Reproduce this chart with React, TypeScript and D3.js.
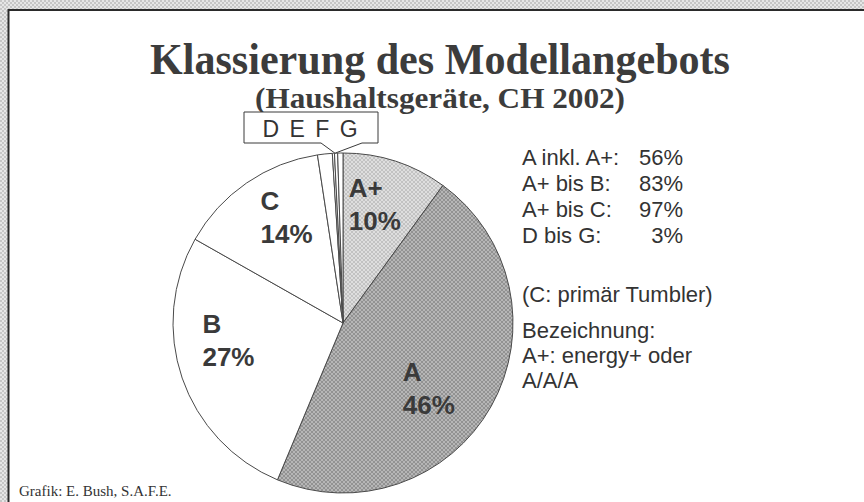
import React from 'react';
import * as d3 from 'd3';

// Anteile (Haushaltsgeräte, CH 2002), im Uhrzeigersinn ab 12 Uhr
const classes = ['A+', 'A', 'B', 'C', 'D', 'E', 'F', 'G'];
const shares = [10, 46.3, 26.9, 14.4, 1.4, 0.2, 0.3, 0.5];
const labelled = ['A+', 'A', 'B', 'C'];

const summaryLabels = ['A inkl. A+:', 'A+ bis B:', 'A+ bis C:', 'D bis G:'];
const summaryValues = ['56%', '83%', '97%', '3%'];
const notes = ['(C: primär Tumbler)', 'Bezeichnung:', 'A+: energy+ oder', 'A/A/A'];

const title = 'Klassierung des Modellangebots';
const subtitle = '(Haushaltsgeräte, CH 2002)';
const calloutText = 'D E F G';
const credit = 'Grafik: E. Bush, S.A.F.E.';

const W = 864;
const H = 502;
const cx = 343;
const cy = 323;
const R = 170;

// kleine Korrekturen der Beschriftung
const nudge: Record<string, [number, number]> = {
  'A+': [-31, -13],
  A: [-44, 0],
  B: [-28, -29],
  C: [-15, -15],
};

const fillFor = (k: string) => (k === 'A+' ? 'url(#pLight)' : k === 'A' ? 'url(#pDark)' : '#fff');

const App = () => {
  const data = classes.map((k, i) => ({ k, v: shares[i] }));
  const pie = d3.pie<{ k: string; v: number }>().sort(null).value(d => d.v);
  const arcs = pie(data);
  const arc = d3.arc<d3.PieArcDatum<{ k: string; v: number }>>().innerRadius(0).outerRadius(R);
  const labelArc = d3.arc<d3.PieArcDatum<{ k: string; v: number }>>().innerRadius(R * 0.7).outerRadius(R * 0.7);

  // Spitze der Legendenbox: Rand des Kuchens zwischen E und F
  const e = arcs[classes.indexOf('E')];
  const f = arcs[classes.indexOf('F')];
  const tipA = (e.startAngle + f.endAngle) / 2;
  const tip = [cx + R * Math.sin(tipA), cy - R * Math.cos(tipA)];

  const box = { x0: 244, x1: 378, y0: 112, y1: 143 };
  const callout = [
    [box.x0, box.y0], [box.x1, box.y0], [box.x1, box.y1], [362, box.y1],
    tip, [321, box.y1], [box.x0, box.y1],
  ];

  return (
    <svg width={W} height={H} style={{ position: 'absolute', left: 0, top: 0, background: '#fff' }}>
      <defs>
        <pattern id="pLight" width="4" height="4" patternUnits="userSpaceOnUse">
          <rect width="4" height="4" fill="#dedede" />
          <rect width="2" height="2" fill="#c2c2c2" />
          <rect x="2" y="2" width="2" height="2" fill="#c2c2c2" />
        </pattern>
        <pattern id="pDark" width="4" height="4" patternUnits="userSpaceOnUse">
          <rect width="4" height="4" fill="#b6b6b6" />
          <rect width="2" height="2" fill="#929292" />
          <rect x="2" y="2" width="2" height="2" fill="#929292" />
        </pattern>
        <pattern id="pFrame" width="4" height="4" patternUnits="userSpaceOnUse">
          <rect width="4" height="4" fill="#e6e6e6" />
          <rect width="2" height="2" fill="#c6c6c6" />
          <rect x="2" y="2" width="2" height="2" fill="#c6c6c6" />
        </pattern>
      </defs>

      {/* Rahmen */}
      <rect x={0} y={0} width={W} height={9} fill="url(#pFrame)" />
      <rect x={0} y={0} width={8} height={H} fill="url(#pFrame)" />
      <path d={`M8.5,${H} V10 H${W}`} fill="none" stroke="#2a2a2a" strokeWidth={2} />

      {/* Titel */}
      <text x={440} y={74} textAnchor="middle" fontFamily="Liberation Serif, Times New Roman, serif"
        fontWeight="bold" fontSize={45} fill="#3c3c3c" textLength={580} lengthAdjust="spacingAndGlyphs">
        {title}
      </text>
      <text x={440} y={108} textAnchor="middle" fontFamily="Liberation Serif, Times New Roman, serif"
        fontWeight="bold" fontSize={30} fill="#3c3c3c" textLength={370} lengthAdjust="spacingAndGlyphs">
        {subtitle}
      </text>

      {/* Kuchen */}
      <g transform={`translate(${cx},${cy})`}>
        {arcs.map(a => (
          <path key={a.data.k} d={arc(a) || ''} fill={fillFor(a.data.k)} stroke="#4a4a4a" strokeWidth={1} />
        ))}
        {arcs.filter(a => labelled.includes(a.data.k)).map(a => {
          const [lx, ly] = labelArc.centroid(a);
          const [dx, dy] = nudge[a.data.k];
          return (
            <text key={a.data.k} x={lx + dx} y={ly + dy} fontFamily="Liberation Sans, Arial, sans-serif"
              fontWeight="bold" fontSize={26} fill="#3a3a3a">
              <tspan x={lx + dx}>{a.data.k}</tspan>
              <tspan x={lx + dx} dy={33}>{`${Math.round(a.data.v)}%`}</tspan>
            </text>
          );
        })}
      </g>

      {/* Legendenbox D E F G */}
      <path d={d3.line()(callout as [number, number][]) + 'Z'} fill="#fff" stroke="#3a3a3a" strokeWidth={1} />
      <text x={(box.x0 + box.x1) / 2} y={137} textAnchor="middle" fontFamily="Liberation Sans, Arial, sans-serif"
        fontSize={23} letterSpacing={2} fill="#333">
        {calloutText}
      </text>

      {/* Zusammenfassung rechts */}
      <g fontFamily="Liberation Sans, Arial, sans-serif" fontSize={22} fill="#333">
        {summaryLabels.map((l, i) => (
          <g key={l}>
            <text x={522} y={165 + i * 26}>{l}</text>
            <text x={683} y={165 + i * 26} textAnchor="end">{summaryValues[i]}</text>
          </g>
        ))}
        <text x={522} y={302}>{notes[0]}</text>
        {notes.slice(1).map((n, i) => (
          <text key={n} x={522} y={338 + i * 25}>{n}</text>
        ))}
      </g>

      <text x={19} y={496} fontFamily="Liberation Serif, Times New Roman, serif" fontSize={15} fill="#333">
        {credit}
      </text>
    </svg>
  );
};

export default App;
